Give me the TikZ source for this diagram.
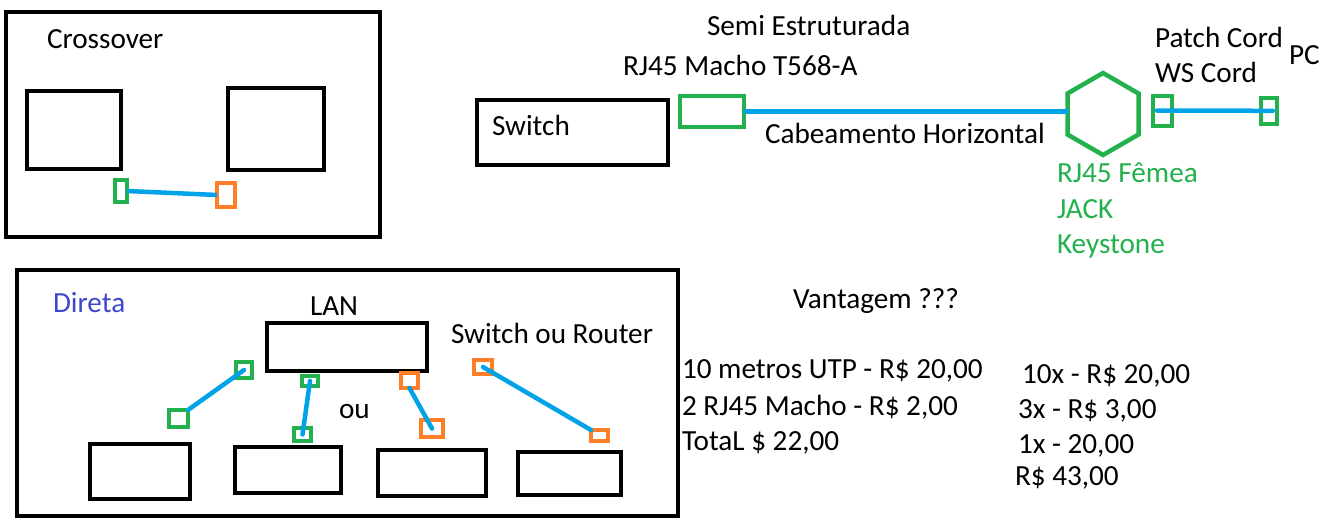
\documentclass[tikz,border=0pt]{standalone}
\usepackage{fontspec}
\setmainfont{Carlito}
\usetikzlibrary{shapes.geometric}
\definecolor{pgreen}{HTML}{22B14C}
\definecolor{porange}{HTML}{FF7F27}
\definecolor{pblue}{HTML}{00A2E8}
\definecolor{pindigo}{HTML}{3F48CC}
\tikzset{
  bx/.style={draw=black, line width=4.5pt, rectangle, inner sep=0pt, outer sep=0pt},
  gbx/.style={draw=pgreen, line width=4pt, rectangle, inner sep=0pt, outer sep=0pt},
  obx/.style={draw=porange, line width=4pt, rectangle, inner sep=0pt, outer sep=0pt},
  cable/.style={draw=pblue, line width=4.5pt, line cap=round},
  txt/.style={anchor=base west, inner sep=0pt, outer sep=0pt, font=\fontsize{29.2}{34}\selectfont},
  gtxt/.style={txt, text=pgreen},
}
\newcommand{\bxat}[5]{\node[#1, minimum width=#4pt, minimum height=#5pt] (#2) at #3 {};}
\begin{document}
\begin{tikzpicture}[x=1pt,y=-1pt]
\useasboundingbox (0,0) rectangle (1335,531);
\fill[white] (0,0) rectangle (1335,531);

% Crossover panel
\bxat{bx}{crossbox}{(193,124.5)}{374}{225}
\bxat{bx}{cx1}{(74,130)}{94}{78}
\bxat{bx}{cx2}{(276,129)}{96}{82}
\bxat{gbx}{cg}{(121,191)}{12}{22}
\bxat{obx}{co}{(226,195)}{18}{24}
\draw[cable, line cap=butt] (cg.east) -- (co.west);
\node[txt] (tcross) at (47,48) {Crossover};

% Semi estruturada
\bxat{bx}{sw}{(572.5,132.5)}{191}{65}
\node[txt] (tsw) at (492,135) {Switch};
\bxat{gbx}{rj}{(712,111.5)}{64}{31}
\node[regular polygon, regular polygon sides=6, shape border rotate=30, draw=pgreen, line width=4.5pt,
      minimum size=82pt, inner sep=0pt, outer sep=0pt] (jack) at (1103,114) {};
\draw[cable, line cap=butt] (rj.east) -- (rj.east -| jack.west);
\bxat{gbx}{pc1}{(1162,110.5)}{19}{30}
\bxat{gbx}{pc2}{(1268.8,110.8)}{16}{26.5}
\draw[cable] ([xshift=-5pt]pc1.center) -- ([xshift=4pt]pc2.center);
\node[txt] (tsemi) at (707,35) {Semi Estruturada};
\node[txt] (trj) at (623,75) {RJ45 Macho T568-A};
\node[txt] (tcab) at (765,143) {Cabeamento Horizontal};
\node[txt] (tpatch) at (1155,47) {Patch Cord};
\node[txt] (tws) at (1155,82) {WS Cord};
\node[txt] (tpc) at (1289,64) {PC};
\node[gtxt] (tfem) at (1057,182) {RJ45 Fêmea};
\node[gtxt] (tjack) at (1057,218) {JACK};
\node[gtxt] (tkey) at (1057,253) {Keystone};

% Direta panel
\bxat{bx}{dirbox}{(347.5,393)}{661}{246}
\node[txt, text=pindigo] (tdir) at (53,312) {Direta};
\bxat{bx}{lan}{(347,347)}{160}{48}
\node[txt] (tlan) at (310,315) {LAN};
\node[txt] (tswr) at (451,343) {Switch ou Router};
\node[txt] (tou) at (339,418) {ou};
\bxat{gbx}{g1}{(244,370)}{16}{16}
\bxat{gbx}{g2}{(178.5,418.5)}{19}{17}
\bxat{gbx}{g3}{(310,381)}{16}{10}
\bxat{gbx}{g4}{(302.5,434.5)}{17}{13}
\bxat{obx}{o1}{(409.5,380.5)}{17}{15}
\bxat{obx}{o2}{(432,428.5)}{22}{17}
\bxat{obx}{o3}{(483,367)}{18}{14}
\bxat{obx}{o4}{(599.5,435.5)}{17}{11}
\draw[cable] (g1.center) -- (g2.north east);
\draw[cable] (g3.center) -- (g4.center);
\draw[cable] (o1.south) -- (o2.center);
\draw[cable] (o3.center) -- (o4.north west);
\bxat{bx}{b1}{(140,471.5)}{100}{55}
\bxat{bx}{b2}{(288,470)}{106}{46}
\bxat{bx}{b3}{(432,473)}{108}{46}
\bxat{bx}{b4}{(569.5,473.5)}{103}{43}

% Vantagem
\node[txt] (tvan) at (793,308) {Vantagem ???};
\node[txt] (ta1) at (682,378) {10 metros UTP - R\$ 20,00};
\node[txt] (ta2) at (682,415) {2 RJ45 Macho - R\$ 2,00};
\node[txt] (ta3) at (682,450) {TotaL \$ 22,00};
\node[txt] (tb1) at (1022,383) {10x - R\$ 20,00};
\node[txt] (tb2) at (1018,418) {3x - R\$ 3,00};
\node[txt] (tb3) at (1018,453) {1x - 20,00};
\node[txt] (tb4) at (1015,485) {R\$ 43,00};
\end{tikzpicture}
\end{document}
